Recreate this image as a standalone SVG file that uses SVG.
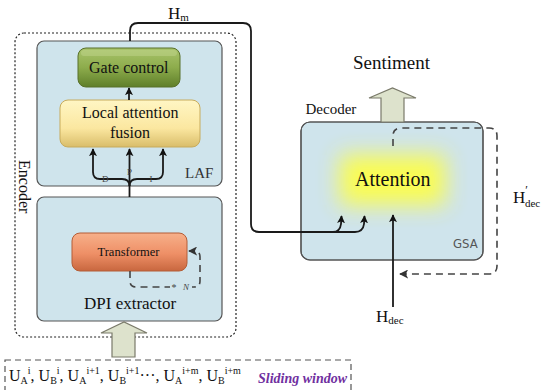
<svg xmlns="http://www.w3.org/2000/svg" width="556" height="390" viewBox="0 0 556 390">
<style>
.box{fill:#cfe4ec;stroke:#555;stroke-width:1.2}
.wire{fill:none;stroke:#1a1a1a;stroke-width:1.8}
.dash{fill:none;stroke:#444;stroke-width:1.6;stroke-dasharray:7 5}
.blk{fill:#dde2cc;stroke:#7a7a6a;stroke-width:1.2}
</style>
<defs>
<marker id="ah" viewBox="0 0 10 10" refX="9" refY="5" markerWidth="8" markerHeight="8" markerUnits="userSpaceOnUse" orient="auto">
<path d="M0,0 L10,5 L0,10 L2.5,5 Z" fill="#111"/>
</marker>
<marker id="ahg" viewBox="0 0 10 10" refX="9" refY="5" markerWidth="9" markerHeight="9" markerUnits="userSpaceOnUse" orient="auto">
<path d="M0,0 L10,5 L0,10 L2.5,5 Z" fill="#333"/>
</marker>
<linearGradient id="gGreen" x1="0" y1="0" x2="0" y2="1">
<stop offset="0" stop-color="#a9c46c"/>
<stop offset="0.5" stop-color="#8dac4c"/>
<stop offset="1" stop-color="#5f7f2a"/>
</linearGradient>
<linearGradient id="gYellow" x1="0" y1="0" x2="0" y2="1">
<stop offset="0" stop-color="#fff6c4"/>
<stop offset="0.6" stop-color="#fbe7a0"/>
<stop offset="1" stop-color="#d9bd6a"/>
</linearGradient>
<linearGradient id="gOrange" x1="0" y1="0" x2="0" y2="1">
<stop offset="0" stop-color="#f7b08a"/>
<stop offset="0.55" stop-color="#ee8f66"/>
<stop offset="1" stop-color="#c8673f"/>
</linearGradient>
<filter id="blur" x="-50%" y="-50%" width="200%" height="200%">
<feGaussianBlur stdDeviation="11"/>
</filter>
<clipPath id="gsaClip"><rect x="301" y="122" width="182" height="138" rx="9"/></clipPath>
</defs>

<g font-family="Liberation Serif" fill="#111">
<!-- Encoder container -->
<g id="encoder">
<rect x="15" y="33" width="221" height="304" rx="9" fill="none" stroke="#222" stroke-width="1.2" stroke-dasharray="2 2"/>
<text font-family="Liberation Serif" font-size="16" x="0" y="0" transform="translate(19,160) rotate(90)">Encoder</text>
</g>

<!-- LAF block -->
<g id="laf">
<rect class="box" x="37" y="41" width="185" height="145" rx="7"/>
<text font-family="Liberation Serif" x="185" y="178" font-size="15" fill="#333">LAF</text>
</g>

<!-- DPI extractor block -->
<g id="dpi">
<rect class="box" x="37" y="197" width="185" height="124" rx="7"/>
<text font-family="Liberation Serif" x="84" y="309" font-size="17">DPI extractor</text>
</g>

<g id="gate">
<rect x="78" y="48" width="102" height="39" rx="8" fill="url(#gGreen)" stroke="#58702a" stroke-width="1"/>
<rect x="81" y="50" width="96" height="6" rx="3" fill="#c4d890" opacity="0.45"/>
<text font-family="Liberation Serif" x="89" y="73" font-size="16">Gate control</text>
</g>

<g id="fusion">
<rect x="60" y="100" width="140" height="47" rx="8" fill="url(#gYellow)" stroke="#c7ab5c" stroke-width="1"/>
<text font-family="Liberation Serif" x="82" y="118" font-size="16">Local attention</text>
<text font-family="Liberation Serif" x="110" y="138" font-size="16">fusion</text>
</g>

<g id="transformer">
<rect x="72" y="233" width="115" height="38" rx="8" fill="url(#gOrange)" stroke="#b45d36" stroke-width="1"/>
<text font-family="Liberation Serif" x="97.5" y="256" font-size="12.5">Transformer</text>
</g>

<!-- GSA decoder block -->
<g id="gsa">
<rect class="box" x="301" y="122" width="182" height="138" rx="9"/>
<g clip-path="url(#gsaClip)">
<rect x="340" y="155" width="105" height="50" fill="#ffff40" opacity="0.9" filter="url(#blur)"/>
</g>
<rect x="301" y="122" width="182" height="138" rx="9" fill="none" stroke="#555" stroke-width="1.2"/>
<text font-family="Liberation Serif" x="355" y="186" font-size="20">Attention</text>
<text x="453" y="248" font-family="DejaVu Sans Condensed, Liberation Sans, sans-serif" font-size="13" fill="#555">GSA</text>
<text font-family="Liberation Serif" x="305.5" y="114" font-size="15">Decoder</text>
</g>

<g id="sentiment">
<polygon class="blk" points="381,122 381,98 369,98 392.5,88 416,98 404,98 404,122"/>
<text font-family="Liberation Serif" x="353" y="69" font-size="19">Sentiment</text>
</g>

<g id="input">
<rect x="5" y="360" width="346" height="40" fill="none" stroke="#555" stroke-width="1.2" stroke-dasharray="6 4"/>
<polygon class="blk" points="112,357 112,333 101,333 124,322 147,333 135,333 135,357"/>
<text font-family="Liberation Serif" x="9" y="381" font-size="16">U<tspan font-size="10" dy="3">A</tspan><tspan font-size="10" dy="-10">i</tspan><tspan dy="7">, U</tspan><tspan font-size="10" dy="3">B</tspan><tspan font-size="10" dy="-10">i</tspan><tspan dy="7">, U</tspan><tspan font-size="10" dy="3">A</tspan><tspan font-size="10" dy="-10">i+1</tspan><tspan dy="7">, U</tspan><tspan font-size="10" dy="3">B</tspan><tspan font-size="10" dy="-10">i+1</tspan><tspan dy="7">···, U</tspan><tspan font-size="10" dy="3">A</tspan><tspan font-size="10" dy="-10">i+m</tspan><tspan dy="7">, U</tspan><tspan font-size="10" dy="3">B</tspan><tspan font-size="10" dy="-10">i+m</tspan></text>
<text font-family="Liberation Serif" x="258" y="383" font-size="14" font-weight="bold" font-style="italic" fill="#7030a0">Sliding window</text>
</g>

<!-- connectors -->
<g id="connectors">
<path class="wire" d="M129,100 L129,88" marker-end="url(#ah)"/>
<path class="wire" d="M129.5,197 L129.5,149" marker-end="url(#ah)"/>
<path class="wire" d="M129.5,186 Q129.5,179 122,179 L100,179 Q93,179 93,172 L93,149" marker-end="url(#ah)"/>
<path class="wire" d="M129.5,186 Q129.5,179 137,179 L156,179 Q163,179 163,172 L163,149" marker-end="url(#ah)"/>
<text font-family="Liberation Serif" font-size="9" fill="#444" x="102" y="182">D</text>
<text font-family="Liberation Serif" font-size="9" fill="#444" x="127" y="175">P</text>
<text font-family="Liberation Serif" font-size="9" fill="#444" x="149.5" y="182">I</text>

<path class="dash" d="M130,271 L130,281 Q130,287 136,287 L194,287 Q200,287 200,281 L200,257 Q200,251 194,251 L189,251" marker-end="url(#ahg)"/>
<rect x="170" y="282" width="22" height="9" fill="#cfe4ec"/>
<text font-family="Liberation Serif" font-size="10" fill="#444" x="171.5" y="291">*</text>
<text font-family="Liberation Serif" font-size="9" fill="#444" x="183" y="290" font-style="italic">N</text>

<path class="wire" d="M130,41 L130,31 Q130,23 138,23 L243,23 Q251,23 251,31 L251,224 Q251,232 259,232 L333,232 Q340,232 341,224 L341.5,216" marker-end="url(#ah)"/>
<path class="wire" d="M333,232 L355,232 Q363,232 364,224 L364.5,216" marker-end="url(#ah)"/>
<text font-family="Liberation Serif" x="168" y="19" font-size="17">H<tspan font-size="11" dy="2">m</tspan></text>

<path class="wire" d="M393,307 L393,215" marker-end="url(#ah)"/>
<text font-family="Liberation Serif" x="376" y="322" font-size="17">H<tspan font-size="11" dy="2">dec</tspan></text>

<path class="dash" d="M393,146 L393,136 Q393,128 401,128 L489,128 Q497,128 497,136 L497,266 Q497,274 489,274 L400,274" marker-end="url(#ahg)"/>
<text font-family="Liberation Serif" x="513" y="203" font-size="17">H<tspan font-size="12" dy="-9">′</tspan><tspan font-size="11" dx="-3" dy="13">dec</tspan></text>
</g>
</g>
</svg>
